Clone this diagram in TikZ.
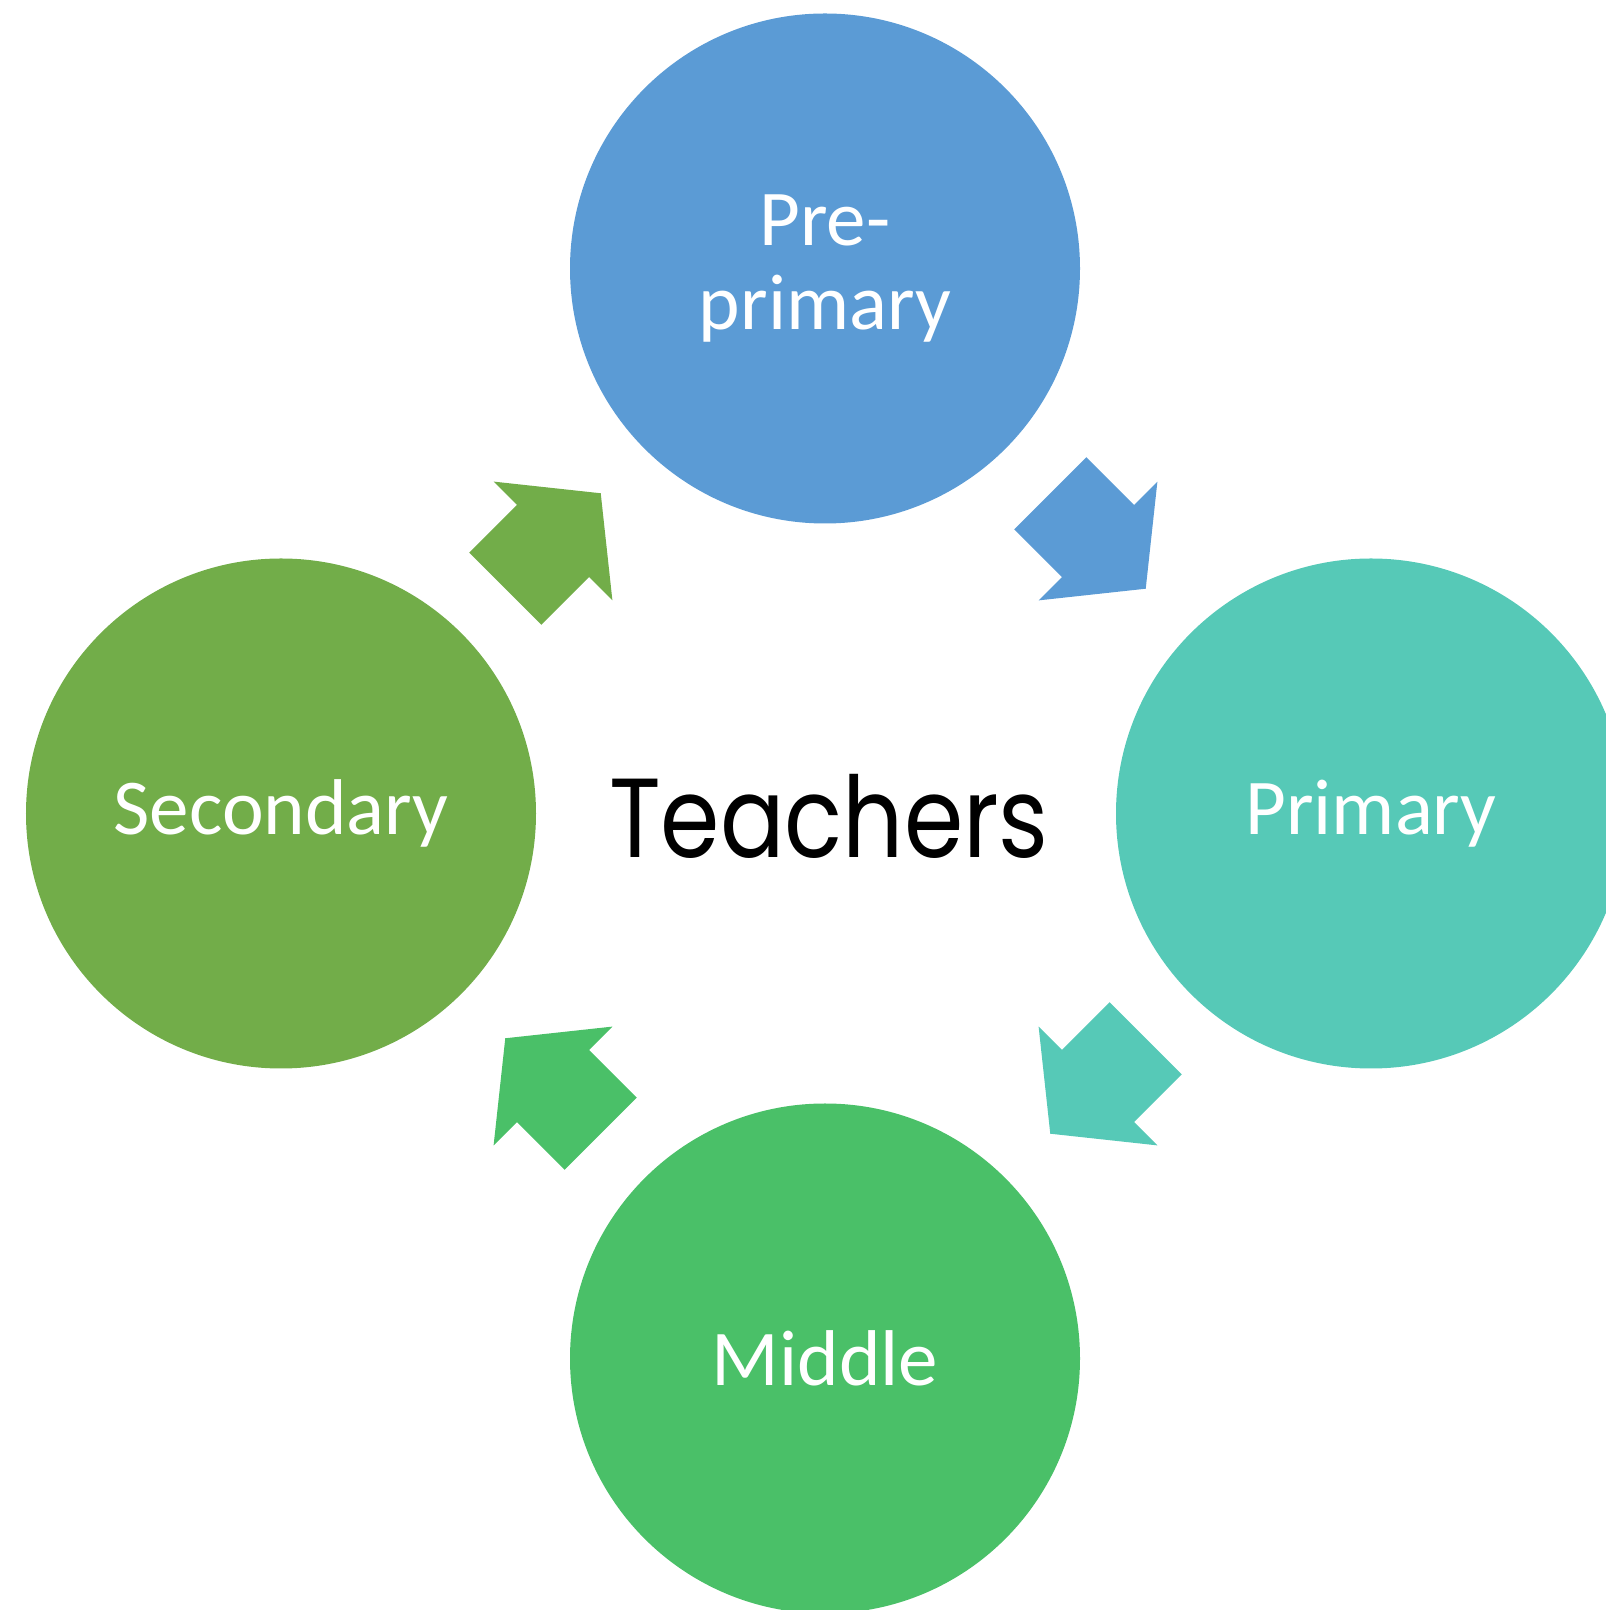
\documentclass[tikz,border=0pt]{standalone}
\usepackage{fontspec}
\setmainfont{Carlito}
\newfontfamily\hubfont[FakeStretch=0.85]{Poppins}
\usetikzlibrary{calc}

\definecolor{preblue}{RGB}{91,155,213}
\definecolor{primteal}{RGB}{86,201,183}
\definecolor{midgreen}{RGB}{74,192,104}
\definecolor{secgreen}{RGB}{114,173,73}

\tikzset{
  stage/.style={circle, minimum size=5.1cm, inner sep=0pt, text=white, align=center,
    font=\fontsize{22.5}{24}\selectfont},
}

\begin{document}
\begin{tikzpicture}
        \clip (0,0) rectangle (16.06,16.10);

        % the four stages
        \node[stage, fill=preblue]  (pre)  at (8.25,13.415) {Pre-\\primary};
        \node[stage, fill=primteal] (prim) at (13.71,7.965) {Primary};
        \node[stage, fill=midgreen] (mid)  at (8.25,2.515)  {Middle};
        \node[stage, fill=secgreen] (sec)  at (2.81,7.965)  {Secondary};

        \node (hub) at (8.29,7.94) {\hubfont\fontsize{32}{36}\selectfont Teachers};

        % block arrows between the stages
        \foreach \from/\to/\col/\ang in {pre/prim/preblue/-45, prim/mid/primteal/-135,
                                          mid/sec/midgreen/135, sec/pre/secgreen/45}
          \fill[\col, shift={($(\from)!0.5!(\to)$)}, rotate=\ang]
            (-0.675,-0.51) -- (0,-0.51) -- (0,-0.84) -- (0.675,0)
            -- (0,0.84) -- (0,0.51) -- (-0.675,0.51) -- cycle;

        \end{tikzpicture}
\end{document}
